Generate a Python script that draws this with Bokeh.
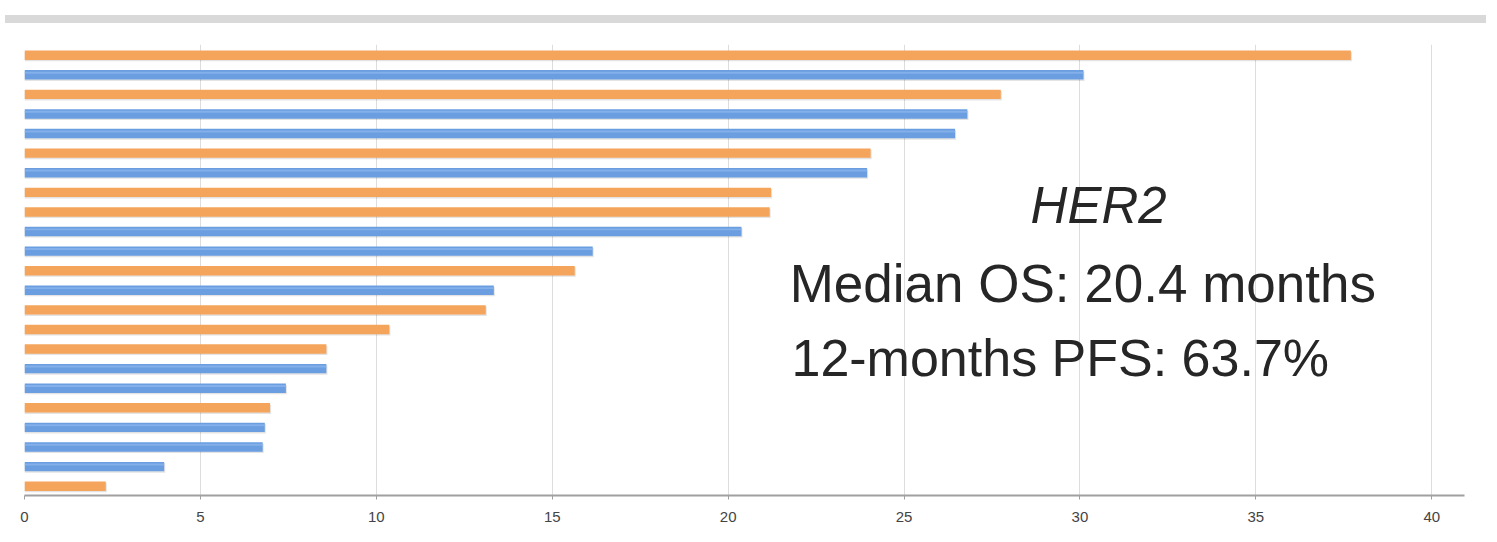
from bokeh.plotting import figure
from bokeh.models import ColumnDataSource, Range1d, Label, Div, FixedTicker
from bokeh.layouts import column
from bokeh.embed import file_html
from bokeh.resources import INLINE

# Data (top to bottom as drawn)
values = [37.7, 30.1, 27.75, 26.8, 26.45, 24.05, 23.95, 21.22, 21.18, 20.38,
          16.15, 15.64, 13.34, 13.11, 10.37, 8.58, 8.58, 7.43, 6.98, 6.83,
          6.77, 3.97, 2.31]
series = ["o", "b", "o", "b", "b", "o", "b", "o", "o", "b",
          "b", "o", "b", "o", "o", "o", "b", "b", "o", "b",
          "b", "b", "o"]
x_ticks = [0, 5, 10, 15, 20, 25, 30, 35, 40]
title_text = "HER2"
line1_text = "Median OS: 20.4 months"
line2_text = "12-months PFS: 63.7%"

ORANGE = "#F5A45B"
BLUE = "#6A9EE0"

n = len(values)
ypos = [n - 1 - i for i in range(n)]
colors = [ORANGE if s == "o" else BLUE for s in series]

src = ColumnDataSource(dict(
    y=ypos,
    v=values,
    ys=[y - 0.07 for y in ypos],
    vs=[v + 0.03 for v in values],
    c=colors,
))
bsrc = ColumnDataSource(dict(
    y=[ypos[i] + 0.11 for i in range(n) if series[i] == "b"],
    v=[values[i] for i in range(n) if series[i] == "b"],
))

p = figure(width=1481, height=508,
           x_range=Range1d(0, 40.93), y_range=Range1d(-0.476, 22.547),
           output_backend="svg", toolbar_location=None,
           y_axis_location=None,
           min_border_left=24, min_border_right=17,
           min_border_top=16, min_border_bottom=41)
p.outline_line_color = None
p.background_fill_color = "white"
p.border_fill_color = "white"
p.ygrid.grid_line_color = None
p.xgrid.grid_line_color = "#dddddd"
p.xgrid.grid_line_width = 1

p.xaxis.ticker = FixedTicker(ticks=x_ticks)
p.xaxis.axis_line_color = "#a0a0a0"
p.xaxis.axis_line_width = 2
p.xaxis.major_tick_line_color = "#a0a0a0"
p.xaxis.major_tick_out = 4
p.xaxis.major_tick_in = 0
p.xaxis.minor_tick_line_color = None
p.xaxis.major_label_standoff = 12
p.xaxis.major_label_text_font = "Liberation Sans"
p.xaxis.major_label_text_font_size = "15px"
p.xaxis.major_label_text_color = "#444444"

# shadow
p.hbar(y="ys", right="vs", left=0, height=0.48, source=src,
       fill_color="#000000", fill_alpha=0.11, line_color=None)
# bars
p.hbar(y="y", right="v", left=0, height=0.48, source=src,
       fill_color="c", line_color=None)
# highlight on blue bars
p.hbar(y="y", right="v", left=0, height=0.1, source=bsrc,
       fill_color="#94bdf0", fill_alpha=0.6, line_color=None)

font = "Liberation Sans"
p.add_layout(Label(x=30.53, y=14.35, text=title_text, text_align="center",
                   text_baseline="alphabetic", text_font=font,
                   text_font_style="italic", text_font_size="51px",
                   text_color="#262626"))
p.add_layout(Label(x=21.75, y=10.35, text=line1_text, text_align="left",
                   text_baseline="alphabetic", text_font=font,
                   text_font_size="53px", text_color="#262626"))
p.add_layout(Label(x=21.8, y=6.53, text=line2_text, text_align="left",
                   text_baseline="alphabetic", text_font=font,
                   text_font_size="52px", text_color="#262626"))

band = Div(text="", width=1481, height=18,
           styles={"background": "linear-gradient(to bottom, #ffffff 0px, #ffffff 10px, #d9d9d9 10px, #d9d9d9 18px)"})

layout = column(band, p, spacing=0)

open("out.html", "w").write(file_html(layout, INLINE))
